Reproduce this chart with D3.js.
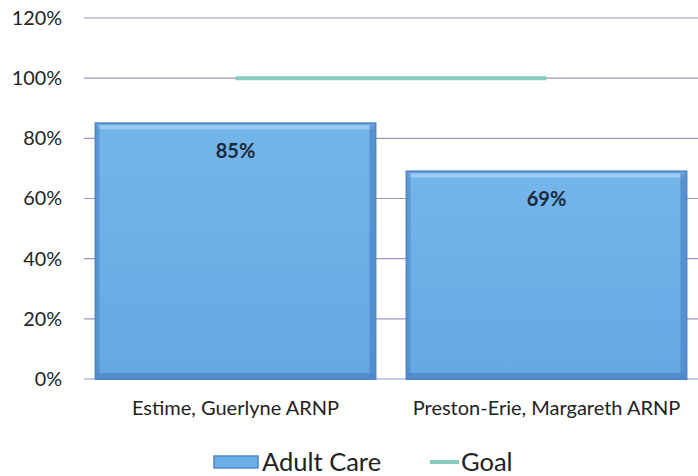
<!DOCTYPE html>
<html>
<head>
<meta charset="utf-8">
<script src="https://cdn.jsdelivr.net/npm/d3@7"></script>
<style>
  html, body { margin: 0; padding: 0; background: #fff; }
  svg { display: block; font-family: Lato, "Open Sans", sans-serif; }
</style>
</head>
<body>
<svg id="chart" width="698" height="476"></svg>
<script>
// Adult care rate by provider, against the 100% goal
const providers = ["Estime, Guerlyne ARNP", "Preston-Erie, Margareth ARNP"];
const adultCare = [85, 69];
const goal = [100, 100];
const yTicks = [0, 20, 40, 60, 80, 100, 120];

const svg = d3.select("#chart");
const W = 698, H = 476;
const plot = { left: 80, right: 702, top: 18, bottom: 379 };

const x = d3.scaleBand().domain(providers)
  .range([plot.left, plot.right]).paddingInner(0.1).paddingOuter(0.05);
const y = d3.scaleLinear().domain([0, 120]).range([plot.bottom, plot.top]);

const defs = svg.append("defs");
const grad = defs.append("linearGradient").attr("id", "barFill")
  .attr("x1", 0).attr("y1", 0).attr("x2", 0).attr("y2", 1);
grad.append("stop").attr("offset", "0%").attr("stop-color", "#74b6ea");
grad.append("stop").attr("offset", "100%").attr("stop-color", "#65a8e3");

// Gridlines
svg.append("g").selectAll("line").data(yTicks).join("line")
  .attr("x1", 84).attr("x2", W)
  .attr("y1", d => y(d)).attr("y2", d => y(d))
  .attr("stroke", d => d === 0 ? "#8c9ccc" : "#9d94c4")
  .attr("stroke-width", 1.2);

// Y axis labels
const yAxis = d3.axisLeft(y).tickValues(yTicks).tickFormat(d => d + "%").tickSize(0).tickPadding(0);
const ya = svg.append("g").attr("transform", "translate(62,0)").call(yAxis);
ya.select(".domain").remove();
ya.selectAll("text").attr("font-size", 19.8).attr("fill", "#222").attr("font-family", "Lato, sans-serif");

// Bars with bevelled edges
const bars = svg.append("g").selectAll("g").data(providers).join("g");
bars.append("rect")
  .attr("x", d => x(d)).attr("y", (d, i) => y(adultCare[i]))
  .attr("width", x.bandwidth()).attr("height", (d, i) => y(0) - y(adultCare[i]))
  .attr("fill", "url(#barFill)").attr("stroke", "#4f86c9").attr("stroke-width", 2);
bars.append("rect")
  .attr("x", d => x(d) + 2).attr("y", (d, i) => y(adultCare[i]) + 2)
  .attr("width", x.bandwidth() - 4).attr("height", 4)
  .attr("fill", "#a6d2f3").attr("opacity", 0.8);
bars.append("rect")
  .attr("x", d => x(d) + x.bandwidth() - 6).attr("y", (d, i) => y(adultCare[i]) + 2)
  .attr("width", 5).attr("height", (d, i) => y(0) - y(adultCare[i]) - 3)
  .attr("fill", "#4d86c8").attr("opacity", 0.75);
bars.append("rect")
  .attr("x", d => x(d) + 1).attr("y", (d, i) => y(adultCare[i]) + 2)
  .attr("width", 3).attr("height", (d, i) => y(0) - y(adultCare[i]) - 3)
  .attr("fill", "#4d86c8").attr("opacity", 0.6);
bars.append("rect")
  .attr("x", d => x(d) + 1).attr("y", y(0) - 6)
  .attr("width", x.bandwidth() - 2).attr("height", 5)
  .attr("fill", "#4d86c8").attr("opacity", 0.75);

// Value labels
bars.append("text")
  .attr("x", d => x(d) + x.bandwidth() / 2)
  .attr("y", (d, i) => y(adultCare[i]) + 35)
  .attr("text-anchor", "middle").attr("font-size", 20).attr("font-weight", "bold")
  .attr("fill", "#1a2a3a")
  .text((d, i) => adultCare[i] + "%");

// Goal line across the category centres
const line = d3.line()
  .x(d => x(d) + x.bandwidth() / 2)
  .y((d, i) => y(goal[i]));
svg.append("path").datum(providers).attr("d", line)
  .attr("fill", "none").attr("stroke", "#85cdbd").attr("stroke-width", 4);

// Category labels
const xAxis = d3.axisBottom(x).tickSize(0).tickPadding(0);
const xa = svg.append("g").attr("transform", "translate(0,401)").call(xAxis);
xa.select(".domain").remove();
xa.selectAll("text").attr("font-size", 20).attr("fill", "#222").attr("font-family", "Lato, sans-serif");

// Legend
const lg = svg.append("g").attr("transform", "translate(0,462)");
lg.append("rect").attr("x", 214).attr("y", -6).attr("width", 44).attr("height", 12)
  .attr("fill", "#6aaee6").attr("stroke", "#4f86c9").attr("stroke-width", 1.5);
lg.append("text").attr("x", 262).attr("y", 0).attr("dy", "0.35em")
  .attr("font-size", 25.5).attr("fill", "#222").text("Adult Care");
lg.append("line").attr("x1", 430).attr("x2", 459).attr("y1", 0).attr("y2", 0)
  .attr("stroke", "#85cdbd").attr("stroke-width", 4);
lg.append("text").attr("x", 461).attr("y", 0).attr("dy", "0.35em")
  .attr("font-size", 25.5).attr("fill", "#222").text("Goal");
</script>
</body>
</html>
